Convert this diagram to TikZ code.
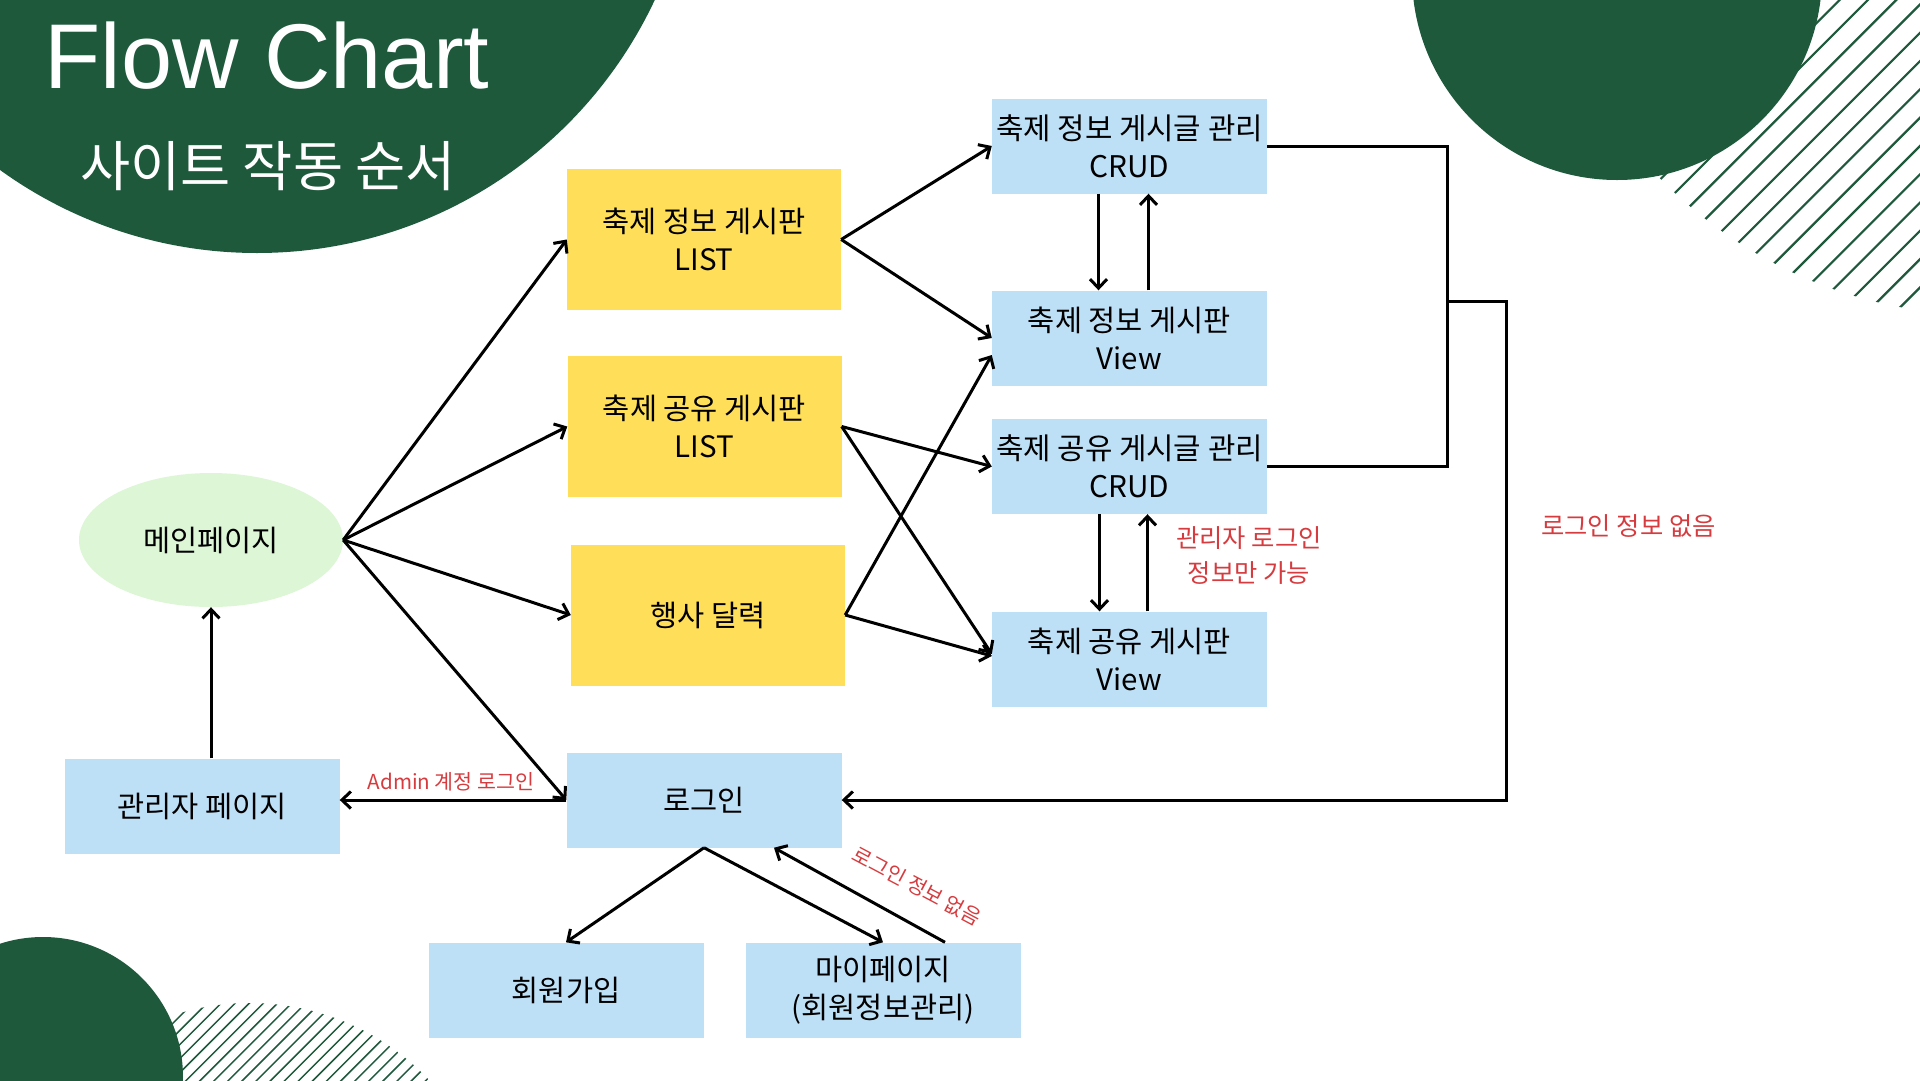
\documentclass[tikz,border=0pt]{standalone}
\usepackage{fontspec}
\setmainfont{Noto Sans CJK KR}
\newfontfamily\titlefont{Liberation Sans}
\usetikzlibrary{arrows.meta,shapes.geometric}
\definecolor{dkgreen}{HTML}{1E593C}
\definecolor{boxblue}{HTML}{BEE0F7}
\definecolor{boxyellow}{HTML}{FFDE59}
\definecolor{ellgreen}{HTML}{DDF6D6}
\definecolor{lblred}{HTML}{D63C3F}
\begin{document}
\begin{tikzpicture}[x=1pt,y=-1pt,
  bluebox/.style={fill=boxblue, minimum width=275pt, minimum height=95pt, inner sep=0pt, align=center, font=\fontsize{29.5}{38}\selectfont},
  crudbox/.style={bluebox, font=\fontsize{29.8}{38}\selectfont},
  yellowbox/.style={fill=boxyellow, minimum width=274pt, minimum height=141pt, inner sep=0pt, align=center, font=\fontsize{29.5}{38}\selectfont},
  conn/.style={line width=3pt, line join=miter, -{Straight Barb[length=9pt,width=17pt]}},
  plainline/.style={line width=3pt, line join=miter},
  lbl/.style={text=lblred, inner sep=0pt, align=center, font=\fontsize{20.6}{28}\selectfont},
  biglbl/.style={lbl, font=\fontsize{25.3}{35}\selectfont},
  hatchA/.style={dkgreen, line width=2.2pt},
  hatchB/.style={dkgreen, line width=1.5pt}
]
\useasboundingbox (0,0) rectangle (1920,1080);
\fill[white] (0,0) rectangle (1920,1080);

% hatching
\begin{scope}
\clip (1985,-140) circle (455);
\foreach \c in {1500,1528.3,...,2700} \draw[hatchA] (\c+1500,-1500) -- (\c-1500,1500);
\end{scope}
\begin{scope}
\clip (250,1250) circle (247);
\foreach \c in {900,914.1,...,1700} \draw[hatchB] (\c+1500,-1500) -- (\c-1500,1500);
\end{scope}

% green circles
\fill[dkgreen] (257,-186) circle (439);
\fill[dkgreen] (1617,-25) circle (205);
\fill[dkgreen] (43,1077) circle (140);

% title
\node[text=white, inner sep=0pt, anchor=base, font=\titlefont\fontsize{92}{92}\selectfont] (title) at (267,88) {Flow Chart};
\node[text=white, inner sep=0pt, font=\fontsize{54.5}{54.5}\selectfont] (subtitle) at (268,166) {사이트 작동 순서};

% nodes
\node[ellipse, fill=ellgreen, minimum width=264pt, minimum height=134pt, inner sep=0pt, font=\fontsize{29.5}{38}\selectfont] (main) at (211,540) {메인페이지};
\node[bluebox] (admin) at (202,806) {관리자 페이지};
\node[bluebox] (login) at (704,800) {로그인};
\node[bluebox] (join) at (566,990) {회원가입};
\node[bluebox] (mypage) at (883,990) {마이페이지\\(회원정보관리)};
\node[yellowbox] (list1) at (704,239.5) {축제 정보 게시판\\LIST};
\node[yellowbox] (list2) at (704.5,426.5) {축제 공유 게시판\\LIST};
\node[yellowbox] (cal) at (708,615) {행사 달력};
\node[crudbox] (crud1) at (1129.5,146) {축제 정보 게시글 관리\\CRUD};
\node[bluebox] (view1) at (1129.5,338) {축제 정보 게시판\\View};
\node[crudbox] (crud2) at (1129.5,466.5) {축제 공유 게시글 관리\\CRUD};
\node[bluebox] (view2) at (1129.5,659) {축제 공유 게시판\\View};

% connectors from main
\draw[conn] (main.east) -- (list1.west);
\draw[conn] (main.east) -- (list2.west);
\draw[conn] (main.east) -- (cal.west);
\draw[conn] (main.east) -- (login.west);
\draw[conn] (main.south |- admin.north) -- (main.south);
\draw[conn] (login.west) -- (login.west -| admin.east);
\node[lbl] (admlbl) at (451,782) {Admin 계정 로그인};

% login below
\draw[conn] (login.south) -- (join.north);
\draw[conn] (login.south) -- (mypage.north);
\draw[conn] ([xshift=62pt]mypage.north) -- ([xshift=70pt]login.south);
\node[lbl, rotate=-28] (nologin1) at (917,886) {로그인 정보 없음};

% lists to right column
\draw[conn] (list1.east) -- (crud1.west);
\draw[conn] (list1.east) -- (view1.west);
\draw[conn] (list2.east) -- (crud2.west);
\draw[conn] (list2.east) -- ([yshift=5pt]view2.west);
\draw[conn] (cal.east) -- ([yshift=-17pt]view1.west);
\draw[conn] (cal.east) -- ([yshift=3pt]view2.west);

% vertical pairs
\draw[conn] ([xshift=-31pt]crud1.south) -- ([xshift=-31pt]view1.north);
\draw[conn] ([xshift=19pt]view1.north) -- ([xshift=19pt]crud1.south);
\draw[conn] ([xshift=-30pt]crud2.south) -- ([xshift=-30pt]view2.north);
\draw[conn] ([xshift=18pt]view2.north) -- ([xshift=18pt]crud2.south);
\node[biglbl] (adminonly) at (1249,556) {관리자 로그인\\정보만 가능};

% bracket back to login
\coordinate (jx) at (1447,301);
\coordinate (rx) at (1506,301);
\draw[plainline] (crud1.east) -- (crud1.east -| jx) -- (crud2.east -| jx) -- (crud2.east);
\draw[conn] (jx) -- (rx) -- (rx |- login.east) -- (login.east);
\node[biglbl] (nologin2) at (1628.5,526.5) {로그인 정보 없음};
\end{tikzpicture}
\end{document}
